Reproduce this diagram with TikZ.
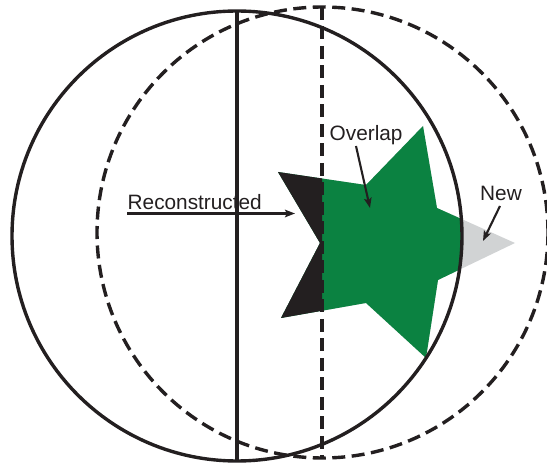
\documentclass[tikz,border=0pt]{standalone}
\usepackage{fontspec}
\setmainfont{Liberation Sans}
\usetikzlibrary{arrows.meta}
\definecolor{inkk}{RGB}{35,31,32}
\definecolor{stargreen}{RGB}{11,130,65}
\definecolor{stargray}{RGB}{209,211,212}
\tikzset{
  outline/.style={draw=inkk,line width=3.4pt},
  dashline/.style={draw=inkk,line width=3.4pt,dash pattern=on 13pt off 6.5pt},
  lbl/.style={inner sep=0pt,anchor=base west,font=\fontsize{20.8}{24}\selectfont,text=inkk},
  pointer/.style={draw=inkk,line width=2.1pt,-{Stealth[length=10pt,width=7.5pt,inset=2pt]}}
}
\begin{document}
\begin{tikzpicture}[x=1pt,y=-1pt]
\useasboundingbox (0,0) rectangle (547,465);
\def\starpath{(278,172) -- (366,185) -- (423,126) -- (437,208) -- (515,243) -- (438,280) -- (426,358) -- (366,303) -- (281,318) -- (320,243) -- cycle}
% gray: whole star
\fill[stargray] \starpath;
% green: part inside solid circle
\begin{scope}
  \clip (237,236) circle (225);
  \fill[stargreen] \starpath;
\end{scope}
% black: part left of dashed line
\begin{scope}
  \clip (0,0) rectangle (322,465);
  \fill[inkk] \starpath;
\end{scope}
% circles and lines
\draw[outline] (237,236) circle (225);
\draw[dashline] (322.5,232.5) circle (225.5);
\coordinate (st) at (237,11);
\coordinate (sb) at (237,461);
\coordinate (dt) at (322,7);
\coordinate (db) at (322,458);
\draw[outline] (st) -- (sb);
\draw[dashline] (dt) -- (db);
% labels
\node[lbl] (ov) at (329.5,141) {Overlap};
\node[lbl] (nw) at (480,201) {New};
\node[lbl] (rc) at (127.5,210) {Reconstructed};
\coordinate (ovs) at (356,146);
\coordinate (ove) at (370,208);
\coordinate (nws) at (500,206);
\coordinate (nwe) at (483,241);
\coordinate (rcs) at (127,213.5);
\coordinate (rce) at (295,213.5);
\draw[pointer] (ovs) -- (ove);
\draw[pointer] (nws) -- (nwe);
\draw[pointer] (rcs) -- (rce);
\end{tikzpicture}
\end{document}
